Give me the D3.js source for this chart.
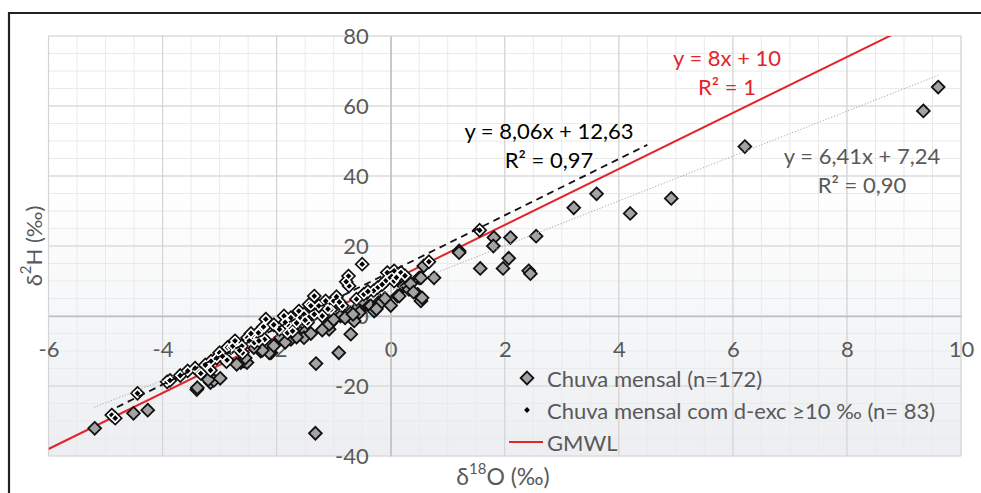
<!DOCTYPE html>
<html><head><meta charset="utf-8">
<script src="https://cdn.jsdelivr.net/npm/d3@7"></script>
<style>
body{margin:0;background:#fff;}
text{font-family:Lato,'Open Sans',sans-serif;}
</style>
</head><body>
<svg id="c" width="981" height="493"></svg>
<script>
// ---- data ----
const xTicks = [-6,-4,-2,0,2,4,6,8,10];
const yTicks = [-40,-20,0,20,40,60,80];
const xMinor = d3.range(-6, 10.01, 0.5);
const yMinor = d3.range(-40, 80.01, 5);

// monthly rain samples with d-excess < 10 (delta18O, delta2H)
const chuvaOutros = [
[-5.19,-32.1],[-4.51,-27.8],[-4.26,-26.9],[-3.40,-21.0],[-3.39,-20.5],[-3.16,-19.0],[-3.10,-18.4],[-2.99,-17.8],
[-2.57,-12.9],[-2.63,-13.3],[-2.61,-12.9],[-2.52,-13.3],[-2.28,-10.0],[-2.10,-10.5],[-2.13,-10.5],[-2.25,-9.8],
[-1.75,-6.7],[-1.93,-6.2],[-1.58,-4.8],[-1.49,-4.3],[-1.52,-6.2],[-1.08,-3.8],[-1.05,-1.9],[-1.08,-2.4],
[-0.88,0.0],[-0.70,0.9],[-0.64,-1.4],[-0.47,6.2],[-0.44,3.3],[-0.58,2.4],[-0.44,3.8],[-0.35,2.9],
[-0.20,3.8],[-0.29,1.4],[-0.70,-5.2],[-0.91,-10.5],[-1.31,-13.6],[-1.32,-33.5],[-0.18,4.3],[-0.20,3.3],
[0.12,5.7],[0.15,5.7],[0.23,8.6],[0.29,8.6],[0.32,7.6],[0.47,6.2],[0.53,4.3],[0.55,5.2],
[0.50,10.9],[0.53,10.9],[0.76,10.9],[0.58,14.3],[1.20,18.6],[1.20,18.1],[1.81,22.4],[1.80,20.0],
[2.10,22.4],[2.55,22.8],[1.57,13.6],[2.07,16.5],[1.97,13.6],[2.42,12.9],[2.45,12.1],[3.21,30.9],
[3.61,34.9],[4.20,29.3],[4.92,33.6],[6.21,48.4],[9.34,58.6],[9.60,65.4],[-1.00,-1.0],[-0.80,-0.5],
[-0.55,1.0],[-1.20,-4.0],[-1.65,-6.0],[-2.40,-9.0],[-2.70,-13.8],[-2.05,-8.5],[0.35,9.2],[-0.10,5.0],
[-0.66,0.5],[0.00,3.0],[-1.40,-5.0],[-1.85,-7.5],[-0.25,2.0],[0.40,6.8],[-3.20,-18.2],[-2.55,-12.0],
[-0.50,4.5]
];
// monthly rain samples with d-excess >= 10
const chuvaDexc = [
[-4.89,-28.3],[-4.83,-29.2],[-4.44,-22.1],[-3.92,-18.8],[-3.87,-18.4],[-3.69,-17.0],[-3.56,-15.7],[-3.43,-14.9],
[-3.33,-16.4],[-3.16,-15.5],[-3.15,-12.9],[-2.88,-13.0],[-2.86,-9.0],[-2.80,-9.0],[-2.74,-8.1],[-2.77,-8.6],
[-2.61,-8.6],[-2.60,-10.5],[-2.87,-12.6],[-2.73,-7.1],[-2.51,-6.2],[-2.48,-7.1],[-2.39,-7.6],[-2.33,-6.2],
[-2.30,-4.3],[-2.32,-4.8],[-2.22,-3.3],[-2.23,-3.1],[-2.19,-0.9],[-2.21,-6.7],[-2.31,-7.1],[-1.87,0.0],
[-1.81,-2.4],[-1.85,-1.8],[-1.75,-0.5],[-1.61,1.4],[-1.58,-0.5],[-1.81,-4.8],[-1.72,-4.3],[-1.43,3.3],
[-1.34,5.7],[-1.14,4.3],[-1.00,4.3],[-0.85,2.9],[-1.40,2.9],[-1.26,2.9],[-1.52,0.5],[-1.34,0.5],
[-1.20,0.0],[-1.46,-1.9],[-1.50,-1.2],[-0.50,14.8],[-0.74,11.4],[-0.73,8.6],[-0.78,9.8],[-0.47,6.2],
[-0.06,12.4],[0.06,12.9],[0.18,12.4],[-0.09,10.0],[0.06,10.0],[-0.23,8.1],[-0.30,7.2],[0.67,15.5],
[1.56,24.5],[-0.95,5.5],[-1.05,1.8],[-0.60,4.8],[-0.40,7.0],[0.10,11.0],[-2.05,-2.5],[-1.95,-3.8],
[-2.45,-5.0],[-2.65,-9.8],[-3.05,-12.0],[-3.25,-14.0],[-3.00,-10.5],[-2.95,-11.5],[-1.65,-2.0],[-1.10,2.0],
[-0.90,4.0],[0.25,11.5],[-0.15,9.0]
];
const chuvaMensal = chuvaOutros.concat(chuvaDexc);

// lines: [slope, intercept], x-range
const gmwlCoef = [8, 10], gmwlRange = [-6, 8.8];
const dexcCoef = [8.06, 12.63], dexcRange = [-4.8, 4.5];
const allCoef = [6.41, 7.24], allRange = [-5.2, 9.6];

const legendLabels = ["Chuva mensal (n=172)", "Chuva mensal com d-exc \u226510 \u2030 (n= 83)", "GMWL"];
const eqLabels = {
  gmwl: ["y = 8x + 10", "R\u00b2 = 1"],
  dexc: ["y = 8,06x + 12,63", "R\u00b2 = 0,97"],
  all: ["y = 6,41x + 7,24", "R\u00b2 = 0,90"]
};

// ---- chart ----
const svg = d3.select("#c");
const L = 48.5, R = 961, T = 36, B = 456;
const x = d3.scaleLinear().domain([-6, 10]).range([L, R]);
const y = d3.scaleLinear().domain([-40, 80]).range([B, T]);
const red = "#e3242b", grayTxt = "#595959";
const FS = 22;

// frame
svg.append("path").attr("d", `M9,493 L9,13 L981,13`).attr("fill","none").attr("stroke","#222").attr("stroke-width",2.2);

// background gradient
const defs = svg.append("defs");
const g = defs.append("linearGradient").attr("id","bg").attr("x1",0).attr("y1",0).attr("x2",0).attr("y2",1);
g.append("stop").attr("offset","0%").attr("stop-color","#ffffff");
g.append("stop").attr("offset","35%").attr("stop-color","#ffffff");
g.append("stop").attr("offset","100%").attr("stop-color","#eceef1");
defs.append("clipPath").attr("id","clip").append("rect").attr("x",L).attr("y",T).attr("width",R-L).attr("height",B-T);
svg.append("rect").attr("x",L).attr("y",T).attr("width",R-L).attr("height",B-T).attr("fill","url(#bg)");

// minor grid
svg.append("g").selectAll("line").data(xMinor).join("line")
  .attr("x1",d=>x(d)).attr("x2",d=>x(d)).attr("y1",T).attr("y2",B).attr("stroke","#eaeaea").attr("stroke-width",1);
svg.append("g").selectAll("line").data(yMinor).join("line")
  .attr("y1",d=>y(d)).attr("y2",d=>y(d)).attr("x1",L).attr("x2",R).attr("stroke","#eaeaea").attr("stroke-width",1);
// major grid
svg.append("g").selectAll("line").data(xTicks).join("line")
  .attr("x1",d=>x(d)).attr("x2",d=>x(d)).attr("y1",T).attr("y2",B).attr("stroke","#d4d4d4").attr("stroke-width",1.2);
svg.append("g").selectAll("line").data(yTicks).join("line")
  .attr("y1",d=>y(d)).attr("y2",d=>y(d)).attr("x1",L).attr("x2",R).attr("stroke","#d4d4d4").attr("stroke-width",1.2);

// axes (through origin)
const fmt = d => String(d);
const xAxis = d3.axisBottom(x).tickValues(xTicks).tickSize(0).tickPadding(22).tickFormat(fmt);
const yAxis = d3.axisLeft(y).tickValues(yTicks).tickSize(0).tickPadding(22).tickFormat(fmt);
const gx = svg.append("g").attr("transform",`translate(0,${y(0)})`).call(xAxis);
const gy = svg.append("g").attr("transform",`translate(${x(0)},0)`).call(yAxis);
[gx, gy].forEach(a=>{
  a.select(".domain").attr("stroke","#bfbfbf").attr("stroke-width",1.3);
  a.selectAll("text").attr("fill",grayTxt).attr("font-size",FS).attr("font-family","Lato,'Open Sans',sans-serif");
});
gx.selectAll("text").attr("dy","0.35em").attr("y",33);
gy.selectAll("text").attr("x",-22);

const plot = svg.append("g").attr("clip-path","url(#clip)");
const lineOf = (coef, rng) => rng.map(v => [x(v), y(coef[0]*v + coef[1])]);

// GMWL
plot.append("path").attr("d", d3.line()(lineOf(gmwlCoef, gmwlRange)))
  .attr("stroke", red).attr("stroke-width", 2).attr("fill","none");

const diamond = r => `M0,${-r}L${r},0L0,${r}L${-r},0Z`;
// gray markers (all samples)
plot.append("g").selectAll("path").data(chuvaMensal).join("path")
  .attr("d", diamond(6.4))
  .attr("transform", d=>`translate(${x(d[0])},${y(d[1])})`)
  .attr("fill","#a3a3a3").attr("stroke","#111").attr("stroke-width",1.8).attr("stroke-linejoin","miter");

// trendline of all samples (dotted)
plot.append("path").attr("d", d3.line()(lineOf(allCoef, allRange)))
  .attr("stroke","#a6a6a6").attr("stroke-width",1).attr("stroke-dasharray","1.2,1.8").attr("fill","none");

// d-exc markers
plot.append("g").selectAll("path").data(chuvaDexc).join("path")
  .attr("d", diamond(2.9))
  .attr("transform", d=>`translate(${x(d[0])},${y(d[1])})`)
  .attr("fill","#000").attr("stroke","#fff").attr("stroke-width",3.2).attr("stroke-linejoin","miter")
  .attr("paint-order","stroke");

// trendline of d-exc samples (dashed)
plot.append("path").attr("d", d3.line()(lineOf(dexcCoef, dexcRange)))
  .attr("stroke","#111").attr("stroke-width",1.8).attr("stroke-dasharray","7,5").attr("fill","none");

// equations
function eq(lines, cx, cy, color){
  lines.forEach((t,i)=>{
    svg.append("text").attr("x",cx).attr("y",cy + i*29).attr("text-anchor","middle")
      .attr("dominant-baseline","central").attr("font-size",FS).attr("fill",color).text(t);
  });
}
eq(eqLabels.gmwl, 727, 57, red);
eq(eqLabels.dexc, 549, 130, "#000");
eq(eqLabels.all, 862, 155, grayTxt);

// legend
const lg = svg.append("g");
const rows = [378, 410, 442];
lg.append("path").attr("d", diamond(6.4)).attr("transform",`translate(527,${rows[0]})`)
  .attr("fill","#a3a3a3").attr("stroke","#111").attr("stroke-width",1.8);
lg.append("path").attr("d", diamond(2.9)).attr("transform",`translate(527,${rows[1]})`)
  .attr("fill","#000").attr("stroke","none");
lg.append("line").attr("x1",509).attr("x2",543).attr("y1",rows[2]).attr("y2",rows[2]).attr("stroke",red).attr("stroke-width",2);
legendLabels.forEach((t,i)=>{
  lg.append("text").attr("x",547).attr("y",rows[i]).attr("dominant-baseline","central")
    .attr("font-size",FS).attr("fill",grayTxt).text(t);
});

// axis titles
const xt = svg.append("text").attr("x",503).attr("y",476).attr("text-anchor","middle")
  .attr("dominant-baseline","central").attr("font-size",23).attr("fill",grayTxt);
xt.append("tspan").text("\u03b4");
xt.append("tspan").attr("font-size",15).attr("dy",-8).text("18");
xt.append("tspan").attr("dy",8).text("O (\u2030)");

const yt = svg.append("text").attr("transform","translate(33,246) rotate(-90)").attr("text-anchor","middle")
  .attr("dominant-baseline","central").attr("font-size",22).attr("fill",grayTxt);
yt.append("tspan").text("\u03b4");
yt.append("tspan").attr("font-size",15).attr("dy",-8).text("2");
yt.append("tspan").attr("dy",8).text("H (\u2030)");
</script>
</body></html>
